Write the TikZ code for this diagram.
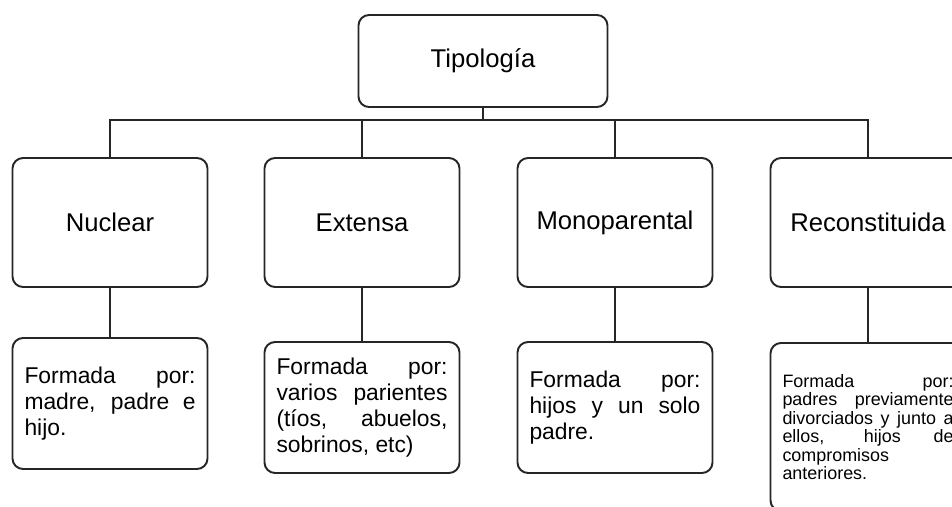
\documentclass[tikz,border=0pt]{standalone}
\usepackage{fontspec}
\setmainfont{Liberation Sans}
\usetikzlibrary{positioning}

\begin{document}
\begin{tikzpicture}[
  box/.style={draw=black!85, line width=1.1pt, rounded corners=6pt, inner sep=0pt, fill=white},
  headbox/.style={box, minimum width=3.9cm, minimum height=2.58cm, align=center,
    font=\fontsize{14.6}{17}\selectfont},
  descbox/.style={box, minimum width=3.9cm, minimum height=2.62cm, text width=3.42cm,
    align=justify, font=\fontsize{13}{14.7}\selectfont},
  link/.style={draw=black!85, line width=1.1pt}
]
  % Page frame (reference is cut on the right and bottom)
  \useasboundingbox (0,0) rectangle (19.04,10.12);
  \clip (0,0) rectangle (19.04,10.12);

  % Root
  \node[box, minimum width=4.98cm, minimum height=1.84cm,
    font=\fontsize{14.6}{17}\selectfont] (tipo) at (9.66,8.90) {Tipología};
  \coordinate (bar) at (9.66,7.72);

  % Types
  \node[headbox] (nuc) at (2.20,5.67) {Nuclear};
  \node[headbox] (ext) at (7.24,5.67) {Extensa};
  \node[headbox] (mono) at (12.30,5.67) {Monoparental};
  \node[headbox] (rec) at (17.36,5.67) {Reconstituida};

  % Descriptions
  \node[descbox] (nucd) at (2.20,2.05)
    {Formada por:\linebreak madre, padre e\linebreak hijo.};
  \node[descbox] (extd) at (7.24,1.97)
    {Formada por:\linebreak varios parientes\linebreak (tíos, abuelos,\linebreak sobrinos, etc)};
  \node[descbox] (monod) at (12.30,1.97)
    {Formada por:\linebreak hijos y un solo\linebreak padre.};
  \node[descbox, anchor=north, minimum height=3.36cm,
    font=\fontsize{10.2}{9.4}\selectfont] (recd) at (17.36,3.28)
    {Formada por:\linebreak padres previamente\linebreak divorciados y junto a\linebreak
     ellos, hijos de\linebreak compromisos\linebreak anteriores.};

  % Tree lines
  \draw[link] (tipo.south) -- (bar);
  \draw[link] (nuc.north) |- (bar) -| (rec.north);
  \draw[link] (ext.north) -- (ext.north |- bar);
  \draw[link] (mono.north) -- (mono.north |- bar);

  % Type to description
  \draw[link] (nuc.south) -- (nucd.north);
  \draw[link] (ext.south) -- (extd.north);
  \draw[link] (mono.south) -- (monod.north);
  \draw[link] (rec.south) -- (recd.north);
\end{tikzpicture}
\end{document}
